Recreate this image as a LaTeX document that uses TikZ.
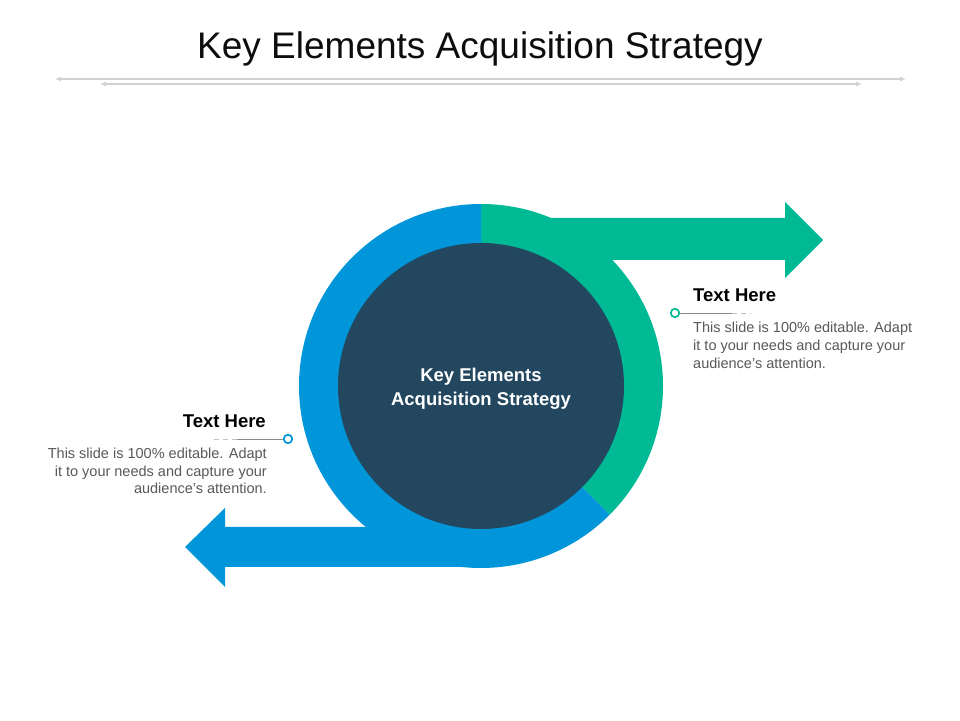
\documentclass[tikz,border=0pt]{standalone}
\usepackage{fontspec}
\setmainfont{Liberation Sans}
\usetikzlibrary{arrows.meta}
\definecolor{ringgreen}{RGB}{0,186,150}
\definecolor{ringblue}{RGB}{0,150,217}
\definecolor{darkcore}{RGB}{35,71,95}
\definecolor{bodygray}{RGB}{89,89,89}
\definecolor{rulegray}{RGB}{210,210,210}
\definecolor{leadgray}{RGB}{140,140,140}
\tikzset{
  titletext/.style={font=\fontsize{37}{42}\selectfont, text=black!95, inner sep=0pt},
  headtext/.style={font=\bfseries\fontsize{18.5}{22}\selectfont, text=black, inner sep=0pt},
  bodytext/.style={font=\fontsize{14.5}{18}\selectfont, text=bodygray, inner sep=0pt},
  coretext/.style={font=\bfseries\fontsize{18.5}{24}\selectfont, text=white, inner sep=0pt},
  toprule/.style={draw=rulegray, line width=1.1pt, {Latex[length=6pt,width=5pt]}-{Latex[length=6pt,width=5pt]}},
  markerdot/.style={circle, fill=white, line width=1.7pt, inner sep=0pt, minimum size=8.5pt},
  leadline/.style={draw=leadgray, line width=0.8pt},
  leaddash/.style={draw=leadgray!55, line width=0.8pt, dash pattern=on 5pt off 4pt}
}
\begin{document}
\begin{tikzpicture}[x=1pt,y=1pt]
\useasboundingbox (0,0) rectangle (960,720);
\fill[white] (0,0) rectangle (960,720);

% title
\node[titletext, anchor=base] (title) at (480,661) {Key Elements Acquisition Strategy};

% top rules
\coordinate (r1a) at (55,641);
\coordinate (r1b) at (906,641);
\coordinate (r2a) at (100,636);
\coordinate (r2b) at (862,636);
\draw[toprule] (r1a) -- (r1b);
\draw[toprule] (r2a) -- (r2b);

% ring
\coordinate (c) at (481,334);
\fill[ringgreen] (c) -- ++(90:182) arc[start angle=90, end angle=-45, radius=182] -- cycle;
\fill[ringgreen] (481,502) -- (785,502) -- (785,518) -- (823,480) -- (785,442) -- (785,460) -- (481,460) -- cycle;
\fill[ringblue] (c) -- ++(90:182) arc[start angle=90, end angle=315, radius=182] -- cycle;
\fill[ringblue] (481,193) -- (225,193) -- (225,212) -- (185,173) -- (225,133) -- (225,153) -- (481,153) -- cycle;
\fill[darkcore] (c) circle[radius=143];

% center text
\node[coretext, anchor=base] (core1) at (481,338) {Key Elements};
\node[coretext, anchor=base] (core2) at (481,314) {Acquisition Strategy};

% right callout
\node[markerdot, draw=ringgreen] (rdot) at (675,407) {};
\coordinate (rend) at (732,407);
\draw[leadline] (rdot) -- (rend);
\draw[leaddash] (rend) -- ++(19,0);
\node[headtext, anchor=base west] (rhead) at (693,418) {Text Here};
\node[bodytext, anchor=base west] (rb1) at (693,387) {This slide is 100\% editable. Adapt};
\node[bodytext, anchor=base west] (rb2) at (693,369) {it to your needs and capture your};
\node[bodytext, anchor=base west] (rb3) at (693,351) {audience's attention.};

% left callout
\node[markerdot, draw=ringblue] (ldot) at (288,281) {};
\coordinate (lend) at (237,281);
\draw[leadline] (ldot) -- (lend);
\draw[leaddash] (lend) -- ++(-25,0);
\node[headtext, anchor=base east] (lhead) at (266,292) {Text Here};
\node[bodytext, anchor=base east] (lb1) at (267,261) {This slide is 100\% editable. Adapt};
\node[bodytext, anchor=base east] (lb2) at (267,243) {it to your needs and capture your};
\node[bodytext, anchor=base east] (lb3) at (267,226) {audience's attention.};
\end{tikzpicture}
\end{document}
